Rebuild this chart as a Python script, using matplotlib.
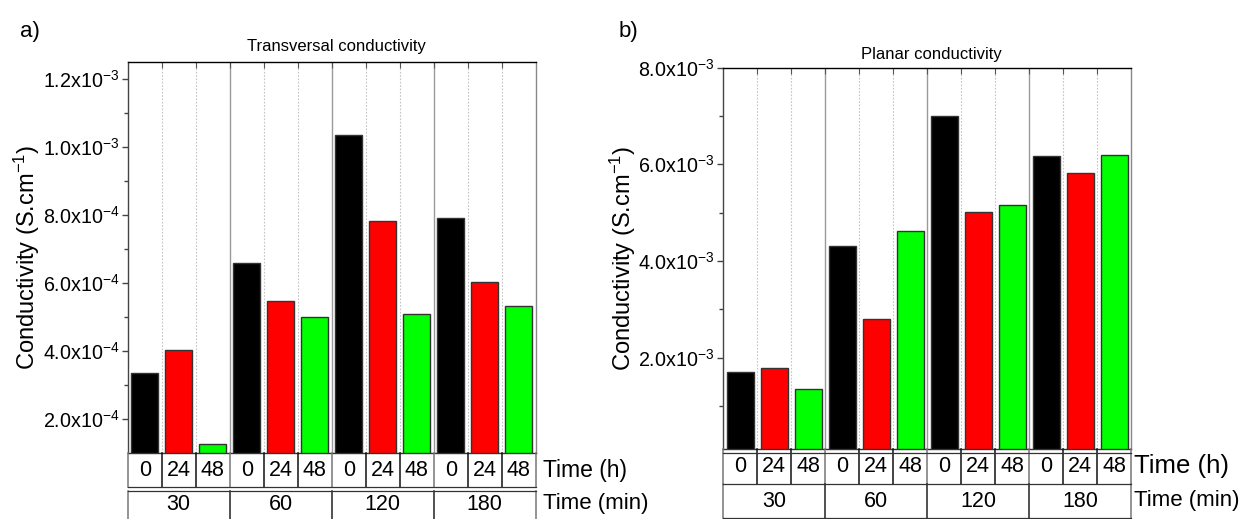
import numpy as np
import matplotlib
matplotlib.use("Agg")
import matplotlib.pyplot as plt
from matplotlib import font_manager

# sample labels: storage time (h) inside each deposition time (min)
hours = ["0", "24", "48"]
minutes = ["30", "60", "120", "180"]
bar_colors = ["#000000", "#ff0000", "#00ff00"]

# conductivity in S/cm, ordered 0/24/48 h for 30, 60, 120, 180 min
transversal = [3.35e-4, 4.03e-4, 1.26e-4,
               6.59e-4, 5.47e-4, 5.00e-4,
               1.035e-3, 7.81e-4, 5.09e-4,
               7.90e-4, 6.01e-4, 5.32e-4]
planar = [1.69e-3, 1.79e-3, 1.34e-3,
          4.30e-3, 2.79e-3, 4.61e-3,
          6.99e-3, 5.01e-3, 5.16e-3,
          6.17e-3, 5.81e-3, 6.19e-3]

trans_ticks = [2e-4, 4e-4, 6e-4, 8e-4, 1.0e-3, 1.2e-3]
trans_labels = ["2.0x10$^{-4}$", "4.0x10$^{-4}$", "6.0x10$^{-4}$",
                "8.0x10$^{-4}$", "1.0x10$^{-3}$", "1.2x10$^{-3}$"]
trans_minor = [3e-4, 5e-4, 7e-4, 9e-4, 1.1e-3]
planar_ticks = [2e-3, 4e-3, 6e-3, 8e-3]
planar_labels = ["2.0x10$^{-3}$", "4.0x10$^{-3}$", "6.0x10$^{-3}$", "8.0x10$^{-3}$"]
planar_minor = [1e-3, 3e-3, 5e-3, 7e-3]


def installed(name):
    try:
        font_manager.findfont(font_manager.FontProperties(family=name),
                              fallback_to_default=False)
        return True
    except ValueError:
        return False


REG = "Liberation Sans"
if installed("Liberation Sans Narrow"):
    NARROW, NSIZE = "Liberation Sans Narrow", 16.5
else:
    NARROW, NSIZE = REG, 14.2

plt.rcParams["font.family"] = [REG, "DejaVu Sans"]
plt.rcParams["mathtext.default"] = "regular"

W, H = 1241, 519
fig = plt.figure(figsize=(W / 100, H / 100), dpi=100)


def fx(px):
    return px / W


def fy(py):
    return 1 - py / H


def panel(box, values, ylim, ticks, labels, minor, title, title_x, title_y,
          letter, letter_xy, ylabel_x, table):
    x0, y0, x1, y1 = box
    ax = fig.add_axes([fx(x0), fy(y1), fx(x1 - x0), (y1 - y0) / H])
    n = len(values)
    pos = np.arange(n)
    colors = [bar_colors[i % 3] for i in range(n)]

    # category separators: solid between groups, dotted inside
    for b in np.arange(0.5, n - 1, 1.0):
        if int(b + 0.5) % 3 == 0:
            ax.axvline(b, color="#9a9a9a", lw=1.0, zorder=0)
        else:
            ax.axvline(b, color="#c4c4c4", lw=0.8, ls=(0, (1.5, 1.5)), zorder=0)

    ax.bar(pos, values, width=0.8, color=colors, edgecolor="#333333",
           linewidth=1.0, zorder=2)

    ax.set_xlim(-0.5, n - 0.5)
    ax.set_ylim(*ylim)
    ax.set_xticks(np.arange(0.5, n - 1, 1.0))
    ax.tick_params(axis="x", which="major", top=True, bottom=False,
                   labelbottom=False, direction="in", length=4,
                   color="#555555")
    ax.set_yticks(ticks)
    ax.set_yticklabels(labels, family=[NARROW, "DejaVu Sans"], fontsize=NSIZE)
    ax.set_yticks(minor, minor=True)
    ax.tick_params(axis="y", which="major", direction="out", length=4.5,
                   width=1, color="#444444", pad=1.5)
    ax.tick_params(axis="y", which="minor", direction="out", length=3,
                   width=1, color="#444444")
    ax.spines["top"].set_color("#000000")
    ax.spines["left"].set_color("#444444")
    ax.spines["right"].set_color("#888888")
    ax.spines["bottom"].set_color("#333333")
    for s in ax.spines.values():
        s.set_linewidth(1.0)

    fig.text(fx(title_x), fy(title_y), title, ha="center", va="center",
             fontsize=12)
    fig.text(fx(letter_xy[0]), fy(letter_xy[1]), letter, ha="center",
             va="center", fontsize=16)
    fig.text(fx(ylabel_x), fy((y0 + y1) / 2), "Conductivity (S.cm$^{-1}$)",
             rotation=90, ha="center", va="center", fontsize=17)

    # two-row category table under the bars, y in pixel units
    tab = fig.add_axes([fx(x0), 0, fx(x1 - x0), fy(y1)])
    tab.set_xlim(-0.5, n - 0.5)
    tab.set_ylim(H, y1)
    tab.axis("off")
    r1a, r1b = table["row1"]
    r2a, r2b = table["row2"]
    for k in range(n + 1):
        edge = k % 3 == 0
        tab.plot([k - 0.5] * 2, [r1a, r1b], color="#777777" if edge else "#111111",
                 lw=1.1, clip_on=False)
    for k in range(0, n + 1, 3):
        inner = 0 < k < n
        tab.plot([k - 0.5] * 2, [r2a, r2b], color="#222222" if inner else "#777777",
                 lw=1.1, clip_on=False)
    for yl in table["hlines"]:
        tab.plot([-0.5, n - 0.5], [yl, yl], color="#333333", lw=0.9, clip_on=False)
    for i in range(n):
        tab.text(i, table["text1"], hours[i % 3], ha="center", va="center",
                 family=[NARROW, "DejaVu Sans"], fontsize=NSIZE + 1.3)
    for g in range(n // 3):
        tab.text(3 * g + 1, table["text2"], minutes[g], ha="center", va="center",
                 family=[NARROW, "DejaVu Sans"], fontsize=NSIZE + 1.3)
    lx = n - 0.5 + table["label_dx"] / ((x1 - x0) / n)
    tab.text(lx, table["text1"] - 1, "Time (h)", ha="left", va="center",
             fontsize=table["hsize"], clip_on=False)
    tab.text(lx, table["text2"] - 1, "Time (min)", ha="left", va="center",
             fontsize=table["msize"], clip_on=False)
    return ax


panel((127.7, 61.7, 535.7, 452.7), transversal, (1e-4, 1.25e-3),
      trans_ticks, trans_labels, trans_minor,
      "Transversal conductivity", 336, 46, "a)", (30, 31), 27,
      {"row1": (452.7, 487.2), "row2": (490.5, H + 2), "hlines": [487.2, 490.5],
       "text1": 471, "text2": 504, "label_dx": 7, "hsize": 16.5, "msize": 16})

panel((723.3, 67.7, 1131.3, 449.3), planar, (1e-4, 8e-3),
      planar_ticks, planar_labels, planar_minor,
      "Planar conductivity", 931, 54, "b)", (628, 32), 623,
      {"row1": (449.3, 484.3), "row2": (484.3, 517.7),
       "hlines": [453.3, 484.3, 517.7],
       "text1": 467, "text2": 501.5, "label_dx": 3, "hsize": 18.5, "msize": 16})

fig.savefig("out.png", dpi=100)
